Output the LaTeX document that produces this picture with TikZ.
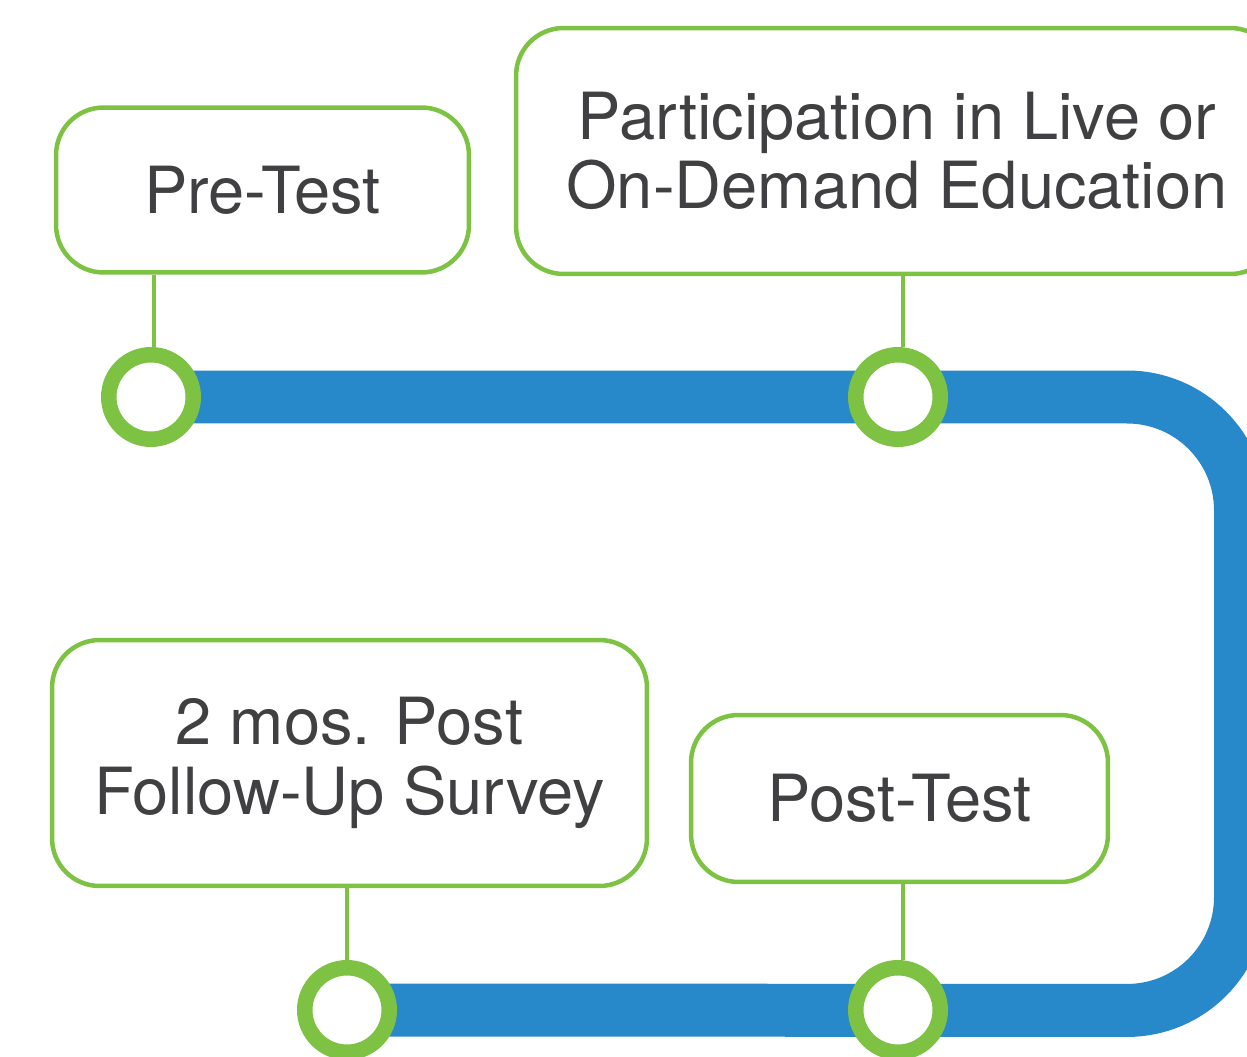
\documentclass[tikz,border=0pt]{standalone}
\usepackage{fontspec}
\setmainfont{TeX Gyre Heros}
\usetikzlibrary{positioning, backgrounds}
\definecolor{lineblue}{HTML}{2889CA}
\definecolor{stepgreen}{HTML}{7DC242}
\definecolor{txtgray}{HTML}{404042}

\begin{document}
\begin{tikzpicture}[x=0.02cm, y=-0.02cm,
  stage/.style={draw=stepgreen, line width=0.09cm, rounded corners=0.95cm, fill=white,
    text=txtgray, align=center, inner sep=0pt, font=\fontsize{37}{39.7}\selectfont},
  stop/.style={circle, draw=stepgreen, line width=0.31cm, fill=white, minimum size=1.69cm, inner sep=0pt},
  link/.style={draw=stepgreen, line width=0.08cm},
  track/.style={draw=lineblue, line width=1.06cm, rounded corners=2.27cm}]
\clip (0,0) rectangle (1247,1057);

\node (PreTest) [stage, minimum width=8.26cm, minimum height=3.3cm] at (262.5,190) {Pre-Test};
\node (Education) [stage, minimum width=15.24cm, minimum height=4.92cm] at (897,151) {Participation in Live or\\On-Demand Education};
\node (FollowUp) [stage, minimum width=11.9cm, minimum height=4.92cm] at (349.5,763) {2 mos. Post\\Follow-Up Survey};
\node (PostTest) [stage, minimum width=8.34cm, minimum height=3.34cm] at (899.5,798.5) {Post-Test};

\node (PreStop) [stop] at (151,397) {};
\node (EduStop) [stop] at (898,397) {};
\node (PostStop) [stop] at (898,1010) {};
\node (FollowStop) [stop] at (347,1010) {};

\begin{pgfonlayer}{background}
\draw[track] (PreStop.center) -- (1240.5,397) -- (1240.5,1010.5) -- (FollowStop.center);
\end{pgfonlayer}

\draw[link] ([xshift=0.05cm]PreStop.north) -- ([xshift=0.05cm]PreStop |- PreTest.south);
\draw[link] ([xshift=0.1cm]EduStop.north) -- ([xshift=0.1cm]EduStop |- Education.south);
\draw[link] ([xshift=0.1cm]PostStop.north) -- ([xshift=0.1cm]PostStop |- PostTest.south);
\draw[link] (FollowStop) -- (FollowStop |- FollowUp.south);
\end{tikzpicture}
\end{document}
